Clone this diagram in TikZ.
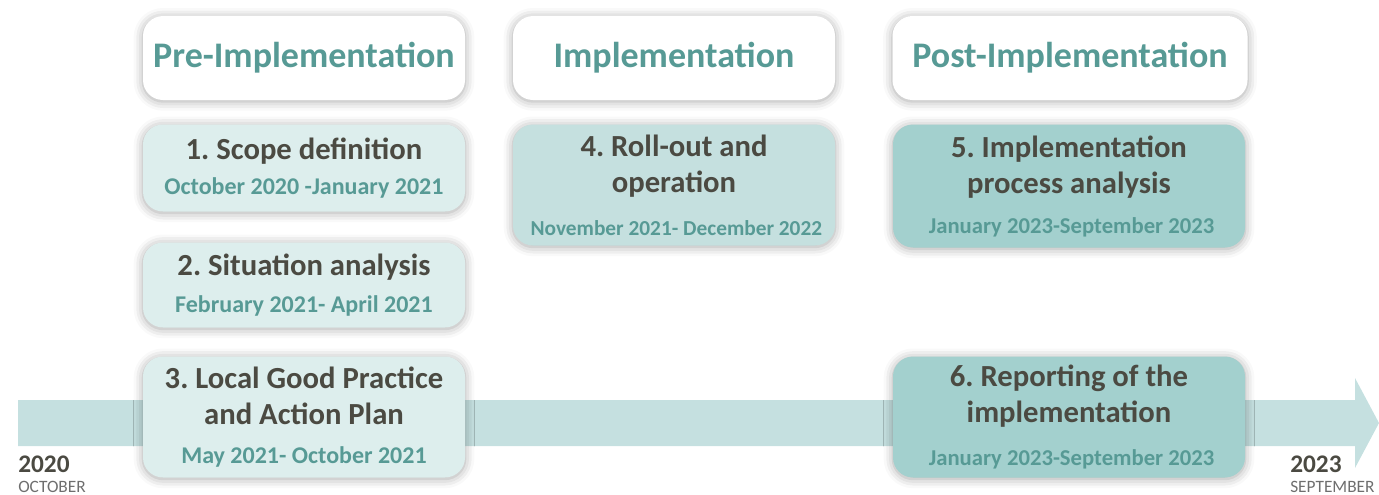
\documentclass[tikz,border=0pt]{standalone}
\usepackage{fontspec}
\setmainfont{Carlito}
\usetikzlibrary{shadows.blur}
\definecolor{tealtext}{HTML}{579A95}
\definecolor{darktext}{HTML}{4B4A42}
\definecolor{graytext}{HTML}{6E6E6E}
\definecolor{palefill}{HTML}{DDEEED}
\definecolor{midfill}{HTML}{C5E0DF}
\definecolor{deepfill}{HTML}{A3D0CE}
\definecolor{arrowfill}{HTML}{C5E0E0}
\newcommand{\datefont}[1][18]{\color{tealtext}\fontsize{#1}{22}\selectfont}
\frenchspacing

\tikzset{
  boxbase/.style={rounded corners=15pt, align=center, inner sep=0pt,
    blur shadow={shadow xshift=0pt, shadow yshift=-1pt, shadow blur radius=7pt, shadow opacity=35}},
  phase/.style={boxbase, fill=white, minimum width=322*0.75pt, minimum height=84*0.75pt,
    text=tealtext, font=\bfseries\fontsize{27}{30}\selectfont},
  stage/.style={boxbase, minimum width=322*0.75pt, text=darktext,
    font=\bfseries\fontsize{23}{27}\selectfont},
  yearlabel/.style={inner sep=0pt, text=darktext, font=\bfseries\fontsize{19}{20}\selectfont},
  monthlabel/.style={inner sep=0pt, text=graytext, font=\fontsize{13}{14}\selectfont}
}

\begin{document}
\begin{tikzpicture}[x=0.75pt, y=-0.75pt]
  \useasboundingbox (0,0) rectangle (1379,494);

  % Timeline arrow
  \fill[arrowfill] (18,400) -- (1355,400) -- (1355,378) -- (1379,423)
    -- (1355,468) -- (1355,446) -- (18,446) -- cycle;

  % Phases
  \node[phase] (pre) at (304,58) {Pre-Implementation};
  \node[phase] (impl) at (674,58) {Implementation};
  \node[phase, minimum width=355*0.75pt] (post) at (1070,58) {Post-Implementation};

  % Stages
  \node[stage, fill=palefill, minimum height=87*0.75pt] (scope) at (304,168)
    {1. Scope definition\\[-1pt]{\datefont October 2020 -January 2021}};
  \node[stage, fill=palefill, minimum height=85*0.75pt] (situation) at (304,285)
    {2. Situation analysis\\[1pt]{\datefont February 2021- April 2021}};
  \node[stage, fill=palefill, minimum height=121*0.75pt] (practice) at (304,417)
    {3. Local Good Practice\\and Action Plan\\[2pt]{\datefont May 2021- October 2021}};
  \node[stage, fill=midfill, minimum height=121*0.75pt] (rollout) at (674,185)
    {4. Roll-out and\\operation\\[5pt]{\datefont[16] November 2021- December 2022}};
  \node[stage, fill=deepfill, minimum width=352*0.75pt, minimum height=123*0.75pt] (process) at (1069,186)
    {5. Implementation\\process analysis\\[3pt]{\datefont[17] January 2023-September 2023}};
  \node[stage, fill=deepfill, minimum width=352*0.75pt, minimum height=121*0.75pt] (reporting) at (1069,417)
    {6. Reporting of the\\implementation\\[5pt]{\datefont[17] January 2023-September 2023}};

  % Timeline ends
  \node[yearlabel, anchor=base west] (startyear) at (18,472) {2020};
  \node[monthlabel, anchor=base west] (startmonth) at (18,492) {OCTOBER};
  \node[yearlabel, anchor=base west] (endyear) at (1290,472) {2023};
  \node[monthlabel, anchor=base west] (endmonth) at (1290,492) {SEPTEMBER};
\end{tikzpicture}
\end{document}
